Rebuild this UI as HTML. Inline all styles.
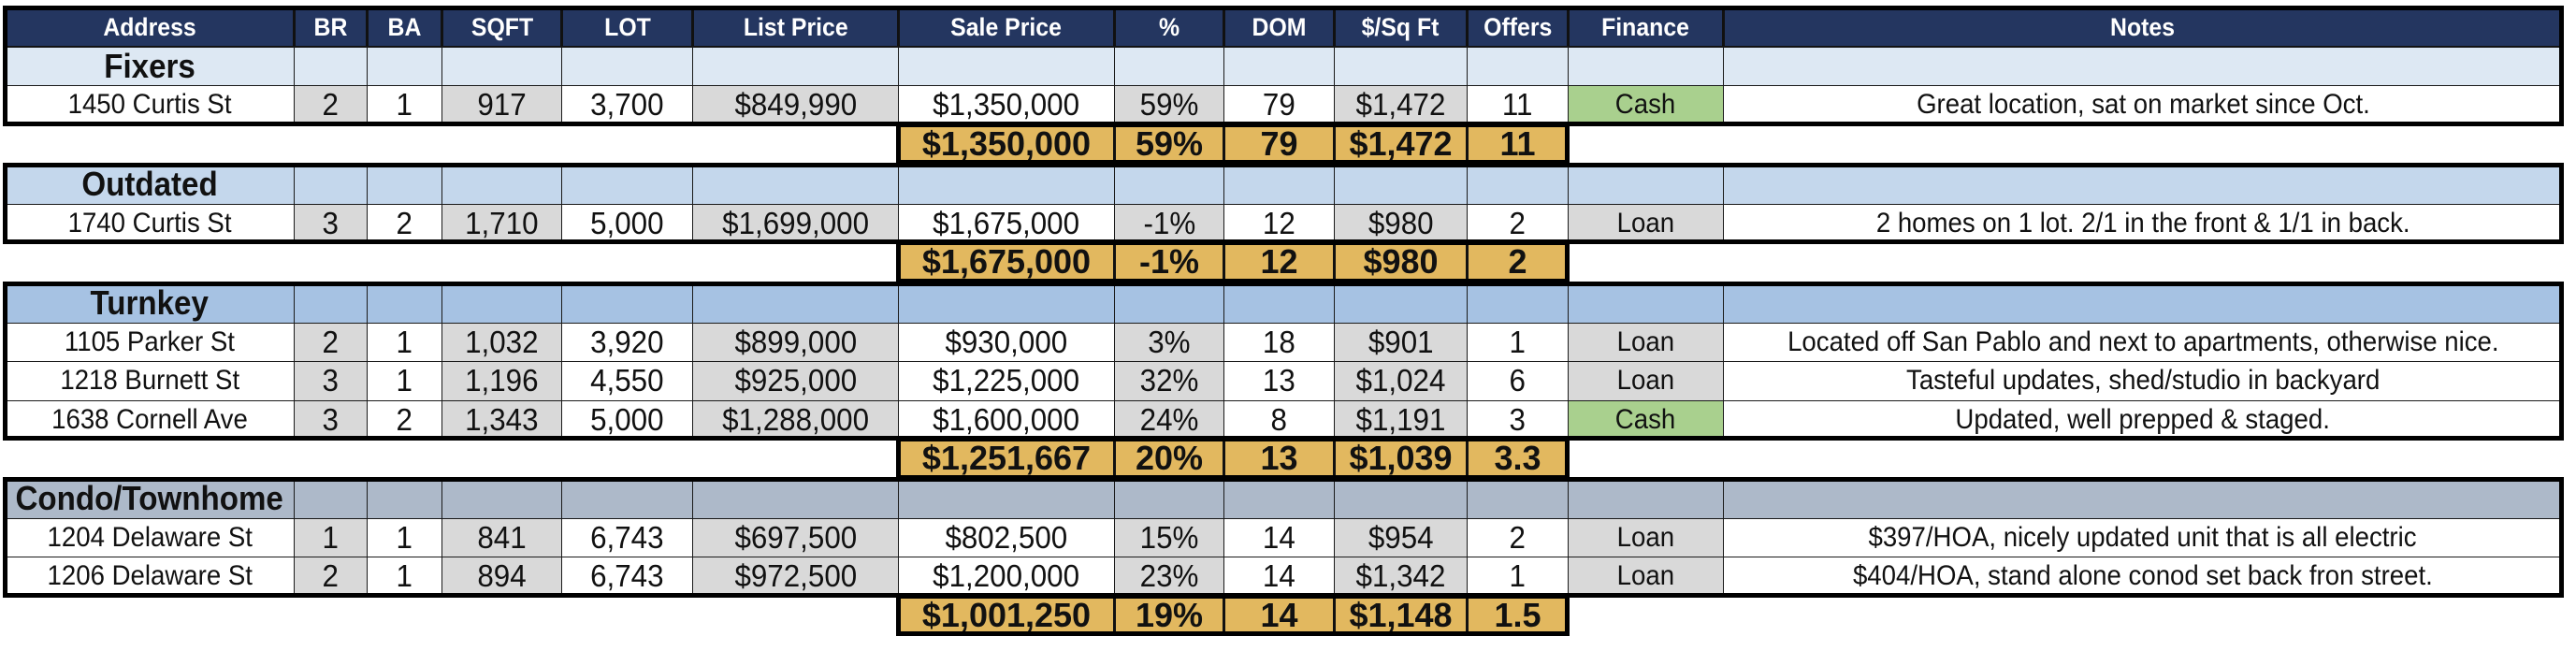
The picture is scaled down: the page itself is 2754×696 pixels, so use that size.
<!DOCTYPE html>
<html><head><meta charset="utf-8">
<style>
html,body{margin:0;padding:0;background:#fff;}
#sheet{position:relative;width:2754px;height:696px;overflow:hidden;background:#fff;font-family:"Liberation Sans",sans-serif;}
.c{position:absolute;box-sizing:border-box;border:1px solid #1a1a1a;display:flex;align-items:center;justify-content:center;font-size:30px;color:#111;white-space:nowrap;overflow:hidden;}
.n{font-size:33px;}
.n .t{transform:scaleX(0.95);}
.h{background:#243660;color:#fff;font-weight:bold;border:2px solid #111;font-size:27px;}
.b{font-weight:bold;font-size:36px;}
.s{background:#e2b85f;font-weight:bold;font-size:36px;border:2px solid #111;}
.s .t{transform:scaleX(1);}
.box{position:absolute;box-sizing:border-box;border:5px solid #000;pointer-events:none;}
.t{display:inline-block;transform:scaleX(0.92);}
</style></head>
<body>
<div id="sheet"></div>
<script>
const colX=[5,314,392,472,600,740,960,1191,1308,1426,1568,1676,1842,2739];
const headers=["Address","BR","BA","SQFT","LOT","List Price","Sale Price","%","DOM","$/Sq Ft","Offers","Finance","Notes"];
const grayCols=[1,3,5,7,9];
const groupNames=["Fixers","Outdated","Turnkey","Condo/Townhome"];
const groupColors=["#dde8f3","#c4d7ec","#a6c2e3","#adb9c9"];
const groupTops=[49.5,176,303,512];
const rowsG0=[["1450 Curtis St","2","1","917","3,700","$849,990","$1,350,000","59%","79","$1,472","11","Cash","Great location, sat on market since Oct."]];
const rowsG1=[["1740 Curtis St","3","2","1,710","5,000","$1,699,000","$1,675,000","-1%","12","$980","2","Loan","2 homes on 1 lot. 2/1 in the front & 1/1 in back."]];
const rowsG2=[["1105 Parker St","2","1","1,032","3,920","$899,000","$930,000","3%","18","$901","1","Loan","Located off San Pablo and next to apartments, otherwise nice."],
["1218 Burnett St","3","1","1,196","4,550","$925,000","$1,225,000","32%","13","$1,024","6","Loan","Tasteful updates, shed/studio in backyard"],
["1638 Cornell Ave","3","2","1,343","5,000","$1,288,000","$1,600,000","24%","8","$1,191","3","Cash","Updated, well prepped & staged."]];
const rowsG3=[["1204 Delaware St","1","1","841","6,743","$697,500","$802,500","15%","14","$954","2","Loan","$397/HOA, nicely updated unit that is all electric"],
["1206 Delaware St","2","1","894","6,743","$972,500","$1,200,000","23%","14","$1,342","1","Loan","$404/HOA, stand alone conod set back fron street."]];
const summaries=[["$1,350,000","59%","79","$1,472","11"],["$1,675,000","-1%","12","$980","2"],["$1,251,667","20%","13","$1,039","3.3"],["$1,001,250","19%","14","$1,148","1.5"]];
const groups=[rowsG0,rowsG1,rowsG2,rowsG3];
const RH=41.5;
const sheet=document.getElementById('sheet');
function cell(x0,x1,y0,y1,cls,txt,bg){
  const d=document.createElement('div');
  d.className='c '+cls;
  d.style.left=x0+'px';d.style.top=y0+'px';
  d.style.width=(x1-x0+1)+'px';d.style.height=(y1-y0+1)+'px';
  if(bg)d.style.background=bg;
  if(txt){const s=document.createElement('span');s.className='t';s.textContent=txt;d.appendChild(s);}
  sheet.appendChild(d);return d;
}
function box(x0,x1,y0,y1){
  const d=document.createElement('div');d.className='box';
  d.style.left=(x0-2)+'px';d.style.top=(y0-2)+'px';
  d.style.width=(x1-x0+4)+'px';d.style.height=(y1-y0+4)+'px';
  
  
  sheet.appendChild(d);
}
headers.forEach((h,i)=>{
  const d=cell(colX[i],colX[i+1],8,49.5,'h',h);
  
  
});
groups.forEach((rows,g)=>{
  const top=groupTops[g];
  for(let i=0;i<13;i++){
    const d=cell(colX[i],colX[i+1],top,top+RH,i===0?'b':'',i===0?groupNames[g]:'',groupColors[g]);
    
    
  }
  rows.forEach((r,ri)=>{
    const y0=top+RH*(ri+1);
    r.forEach((v,i)=>{
      let bg='#fff';
      if(grayCols.includes(i))bg='#d9d9d9';
      if(i===11)bg=(v==='Cash')?'#a9d08e':'#d9d9d9';
      const cls=(i>=1&&i<=10)?'n':'';
      const d=cell(colX[i],colX[i+1],y0,y0+RH,cls,v,bg);
      
      
    });
  });
  const bottom=top+RH*(rows.length+1);
  box(colX[0],colX[13],g===0?8:top,bottom);
  const sy=bottom;
  summaries[g].forEach((v,k)=>{
    const d=cell(colX[6+k],colX[7+k],sy,sy+RH,'s',v);
    
    
  });
  box(colX[6],colX[11],sy,sy+RH);
});
</script>
</body></html>
